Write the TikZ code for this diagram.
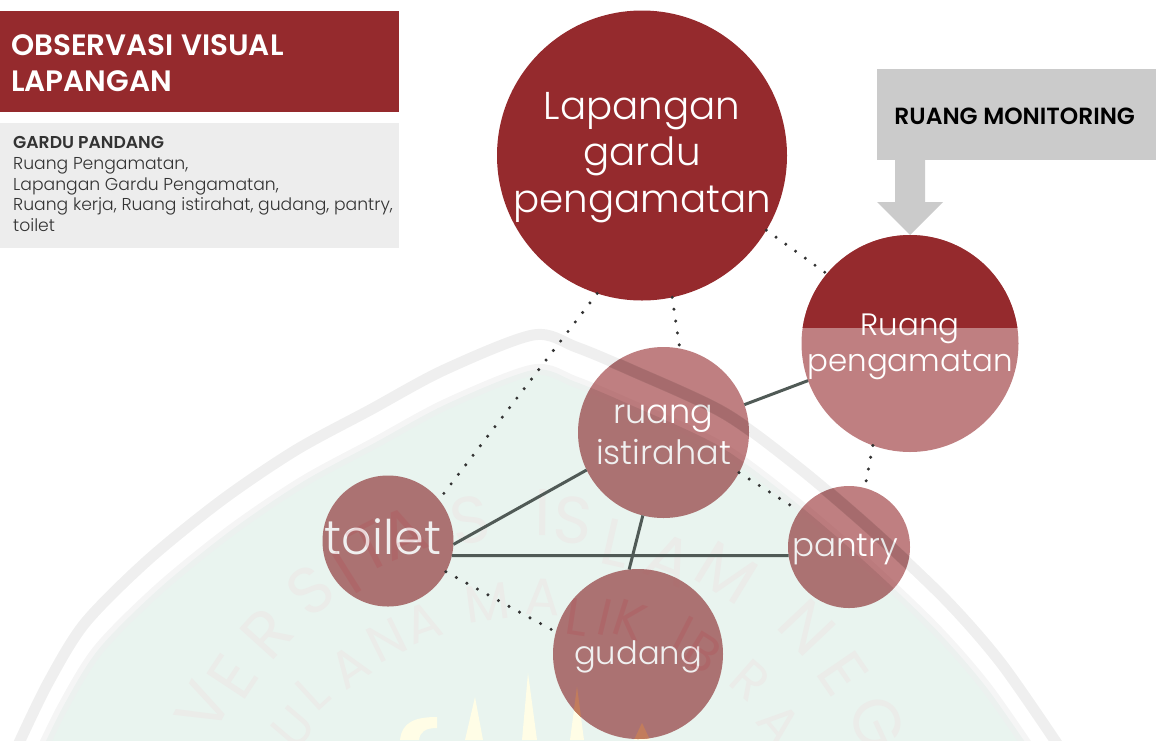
\documentclass[tikz,border=0pt]{standalone}
\usepackage{fontspec}
\setmainfont{Poppins}
\newfontfamily\lightfont{Poppins Light}
\newfontfamily\semifont{Poppins SemiBold}

\definecolor{maroon}{HTML}{952A2D}
\definecolor{panel}{HTML}{EDEDED}
\definecolor{monitor}{HTML}{CBCBCB}
\definecolor{wmgreen}{HTML}{E9F4EF}
\definecolor{wmband}{HTML}{EFEFEF}
\definecolor{wmletter}{HTML}{EBECE9}
\definecolor{wmred}{HTML}{C02030}
\definecolor{wmgold}{HTML}{FFFDE6}
\definecolor{wmorange}{HTML}{C27C5C}
\definecolor{linkgrey}{HTML}{505A56}

% dome of the faint background mark
\newcommand{\domepath}{plot[smooth] coordinates {(18,745) (48,683) (85,623) (148,560) (222,500) (296,450) (370,410) (444,370) (533,335)
    (576,347) (631,370) (724,413) (798,467) (872,530) (946,600) (1001,663) (1058,745)}}
\newcommand{\spires}{(465,740) -- (475,697) -- (483,740) -- cycle
    (522,740) -- (528,673) -- (537,740) -- cycle
    (570,740) -- (577,687) -- (584,740) -- cycle
    (634,740) -- (642,723) -- (650,740) -- cycle}
% letters of the mark, each turned along its arc
\newcommand{\wmouter}[2]{
    \foreach \ch/\px/\py in {#2}
        \node[inner sep=0pt,text=#1,rotate={atan2(880-\py,\px-540)-90},font=\fontsize{66}{66}\selectfont] at (\px,\py) {\ch};
}
\newcommand{\wminner}[2]{
    \foreach \ch/\px/\py in {#2}
        \node[inner sep=0pt,text=#1,rotate={atan2(930-\py,\px-530)-90},font=\fontsize{52}{52}\selectfont] at (\px,\py) {\ch};
}
% the mark again, darkening what lies inside one room circle
\newcommand{\seenthrough}[3]{
    \begin{scope}[every node/.append style={text opacity=.13}]
        \clip (#1.center) circle[radius=#2];
        \begin{scope}[innerdome]
            \fill[black,fill opacity=.06] \domepath -- cycle;
        \end{scope}
        \draw[black,draw opacity=.1,line width=12pt] \domepath;
        #3
        \fill[wmorange] \spires;
    \end{scope}
}

\tikzset{
    innerdome/.style={shift={(535,1500)},scale=.97,shift={(-535,-1500)}},
    bubble/.style={circle,fill=maroon,fill opacity=.6,text opacity=1,text=white,
        inner sep=0pt,outer sep=0pt,minimum size=#1},
}
\tikzset{
    solidlink/.style={linkgrey,line width=3pt},
    dotlink/.style={black!80,line width=3.4pt,line cap=round,dash pattern=on 0pt off 12pt},
}
% room text, placed by its own drop below the centre of the circle
\newcommand{\roomtext}[2]{\raisebox{-#1}[0pt][0pt]{\begin{tabular}{@{}c@{}}#2\end{tabular}}}

\begin{document}
\begin{tikzpicture}[x=1pt,y=-1pt]
    \useasboundingbox (0,0) rectangle (1156,740);

    % background mark
    \begin{scope}
        \begin{scope}[innerdome]
            \fill[wmgreen] \domepath -- cycle;
            \draw[wmband,line width=11pt,draw opacity=.6] \domepath;
        \end{scope}
        \draw[wmband,line width=11pt] \domepath;
        \wmouter{wmletter}{V/203/707,E/233/677,R/267/633,S/310/590,S/470/520,I/543/513,S/573/520,L/617/543,A/670/560,M/727/573,N/807/627,E/843/673,G/877/723}
        \wminner{wmletter}{U/293/727,L/313/693,A/350/667,N/387/640,A/423/623,M/487/603,A/543/597,R/750/680,A/780/723}
        \fill[wmgold] \spires;
        \fill[wmgold] (400,740) .. controls (402,722) and (415,717) .. (437,717) -- (437,728) .. controls (425,728) and (420,732) .. (419,740) -- cycle;
    \end{scope}

    % title boxes
    \fill[maroon] (0,11) rectangle (399,112);
    \fill[panel] (0,123) rectangle (399,248);
    \node (title) [anchor=north west,inner sep=0pt,text=white,align=left,font=\semifont\fontsize{29.5}{36}\selectfont] at (11,34.5) {OBSERVASI VISUAL\\LAPANGAN};
    \node (list) [anchor=north west,inner sep=0pt,text=black!80,align=left,font=\lightfont\fontsize{17.2}{20.7}\selectfont] at (13,136.5) {{\semifont GARDU PANDANG}\\Ruang Pengamatan,\\Lapangan Gardu Pengamatan,\\Ruang kerja, Ruang istirahat, gudang, pantry,\\toilet};

    % monitoring room and its arrow
    \node (monitoring) [fill=monitor,anchor=north west,minimum width=279pt,minimum height=91pt,inner sep=0pt,font=\semifont\fontsize{23.4}{26}\selectfont] at (877,69) {\hspace*{-4pt}\raisebox{-10pt}[0pt][0pt]{\textcolor{black}{RUANG MONITORING}}};
    \fill[monitor] (895,160) -- (925,160) -- (925,202) -- (943,202) -- (910,235) -- (877,202) -- (895,202) -- cycle;

    % rooms
    \node (lapangan) [bubble=290pt,fill opacity=1,font=\lightfont\fontsize{38.8}{46.8}\selectfont] at (642,155.5) {\roomtext{7.2pt}{Lapangan\\gardu\\pengamatan}};
    \node (pengamatan) [bubble=217pt,font=\lightfont\fontsize{30.9}{36}\selectfont,
        path picture={\fill[maroon,fill opacity=1] (path picture bounding box.north west) rectangle ([yshift=-93pt]path picture bounding box.north east);}] at (910,343.5) {\roomtext{9.5pt}{Ruang\\pengamatan}};
    \node (istirahat) [bubble=171pt,font=\lightfont\fontsize{33.5}{41}\selectfont] at (663.5,432.5) {\roomtext{9.5pt}{ruang\\istirahat}};
    \node (toilet) [bubble=131pt,font=\lightfont\fontsize{47.7}{46}\selectfont] at (388,541) {\hspace*{-10pt}\roomtext{9pt}{toilet}};
    \node (pantry) [bubble=122pt,font=\lightfont\fontsize{32.6}{32}\selectfont] at (849,547) {\hspace*{-8pt}\roomtext{9pt}{pantry}};
    \node (gudang) [bubble=170pt,font=\lightfont\fontsize{32.2}{31}\selectfont] at (638,654) {\roomtext{9pt}{gudang}};

    \seenthrough{istirahat}{85.5}{}
    \seenthrough{toilet}{65.5}{\wmouter{wmred}{I/347/573,T/370/547,A/403/533}}
    \seenthrough{pantry}{61}{}
    \seenthrough{gudang}{85}{\wminner{wmred}{L/577/617,I/605/617,K/630/620,I/683/633,B/703/653}}

    % links
    \draw[dotlink] (lapangan.-31) -- (pengamatan.140);
    \draw[dotlink] (lapangan.-108) -- (toilet.39);
    \draw[dotlink] (lapangan.-78.6) -- (istirahat.79.5);
    \draw[dotlink] (pengamatan.-110) -- (pantry.75.7);
    \draw[dotlink] (istirahat.-28) -- (pantry.144);
    \draw[dotlink] (toilet.-28) -- (gudang.165);
    \draw[solidlink] (istirahat.19) -- (pengamatan.200);
    \draw[solidlink] (toilet.-3.6) -- (istirahat.206);
    \draw[solidlink] (toilet.-13) -- (pantry.188.5);
    \draw[solidlink] (istirahat.-104.4) -- (gudang.96.8);
\end{tikzpicture}
\end{document}
